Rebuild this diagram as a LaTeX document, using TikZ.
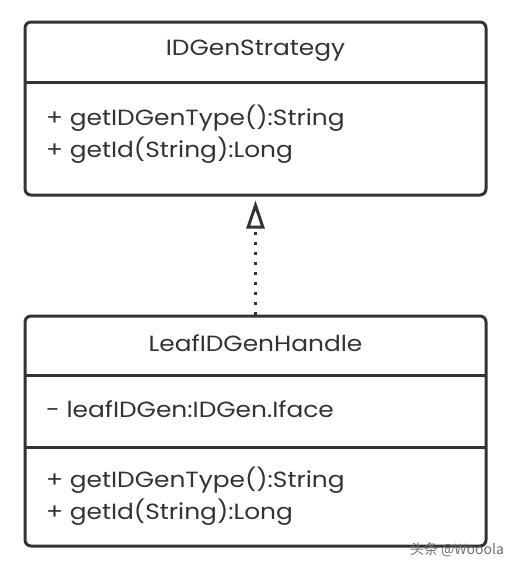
\documentclass[tikz,border=0pt]{standalone}
\usepackage{fontspec}
\setmainfont{Poppins}[FakeStretch=1.13]
\newfontfamily\cjk{Noto Sans CJK SC}
\usetikzlibrary{arrows.meta}
\definecolor{ink}{HTML}{333333}
\definecolor{wm}{HTML}{6E6E6E}
\begin{document}
\begin{tikzpicture}[x=1pt,y=-1pt,
  classbox/.style={draw=ink, line width=3pt, rounded corners=6pt, inner sep=0pt},
  divider/.style={draw=ink, line width=3pt},
  title/.style={text=ink, font=\fontsize{22}{26}\selectfont, inner sep=0pt, anchor=center},
  member/.style={text=ink, font=\fontsize{22}{26}\selectfont, inner sep=0pt, anchor=west},
  realize/.style={draw=ink, line width=2.8pt, dash pattern=on 2.8pt off 7.2pt,
    -{Triangle[open, length=28pt, width=18pt, line width=3pt]}, shorten >=4pt}
]
\useasboundingbox (0,0) rectangle (512,570);
% top class
\node[classbox, minimum width=461pt, minimum height=173pt] (s) at (255.5,108.5) {};
\draw[divider] (25,82) coordinate (sd1) -- (486,82) coordinate (sd2);
\node[title] (st) at (255.5,51) {IDGenStrategy};
\node[member] (sm1) at (46,118) {+ getIDGenType():String};
\node[member] (sm2) at (46,150) {+ getId(String):Long};
% bottom class
\node[classbox, minimum width=461pt, minimum height=230pt] (h) at (255.5,431) {};
\draw[divider] (25,375) coordinate (hd1) -- (486,375) coordinate (hd2);
\draw[divider] (25,447) coordinate (hd3) -- (486,447) coordinate (hd4);
\node[title] (ht) at (255.5,343) {LeafIDGenHandle};
\node[member] (ha1) at (46,409) {- leafIDGen:IDGen.Iface};
\node[member] (hm1) at (46,480) {+ getIDGenType():String};
\node[member] (hm2) at (46,512) {+ getId(String):Long};
% realization
\draw[realize] (h.north) -- (s.south);
% watermark
\node[text=wm, font=\cjk\fontsize{14}{16}\selectfont, inner sep=0pt, anchor=center] (wmk) at (457,550) {头条 @Wooola};
\end{tikzpicture}
\end{document}
